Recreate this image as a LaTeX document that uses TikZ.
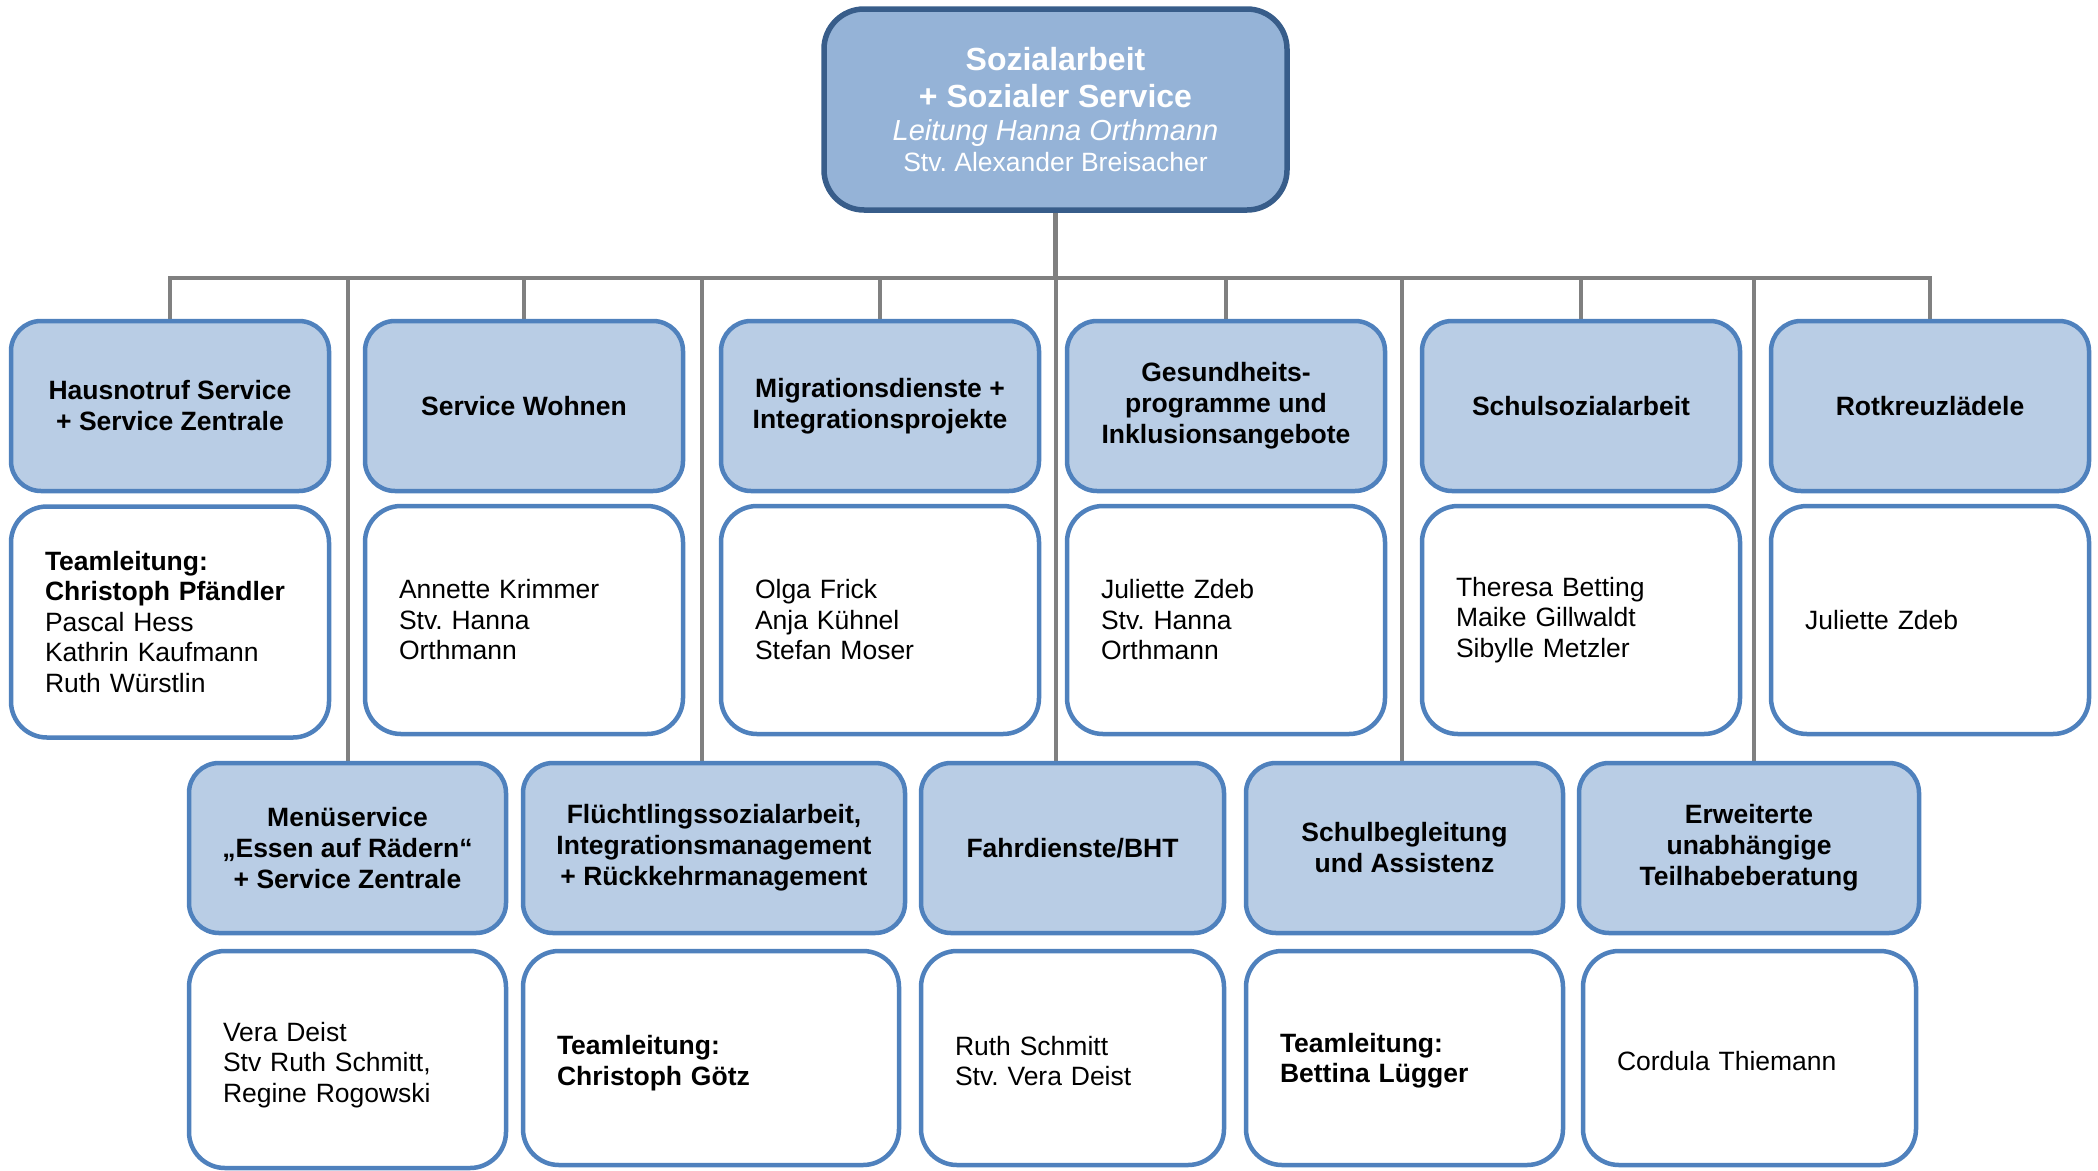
\documentclass[tikz,border=0pt]{standalone}
\usepackage{fontspec}
\setmainfont{Liberation Sans}
\usetikzlibrary{backgrounds}
\frenchspacing
\definecolor{topfill}{HTML}{95B3D7}
\definecolor{topline}{HTML}{385D8A}
\definecolor{hfill}{HTML}{B9CDE5}
\definecolor{hline}{HTML}{4F81BD}
\definecolor{conn}{HTML}{808080}
\newcommand{\lift}[1]{\rule{0pt}{#1}}
\begin{document}
\begin{tikzpicture}[x=1pt,y=-1pt,
  every node/.style={inner sep=0pt, outer sep=0pt},
  topbox/.style={draw=topline, fill=topfill, line width=5.5pt, rounded corners=40pt,
    minimum width=463pt, minimum height=201pt, align=center, text=white,
    font=\fontsize{29}{35}\selectfont\frenchspacing},
  headbox/.style={draw=hline, fill=hfill, line width=4.5pt, rounded corners=30pt,
    minimum height=170pt, align=center, font=\fontsize{26.5}{31}\selectfont\bfseries\frenchspacing},
  infobox/.style={draw=hline, fill=white, line width=4.5pt, rounded corners=36pt,
    inner xsep=34pt, align=left, font=\fontsize{26.5}{30.5}\selectfont\frenchspacing},
  link/.style={draw=conn, line width=4.5pt}
]
\useasboundingbox (0,0) rectangle (2098,1170);

% top
\node[topbox] (top) at (1055.5,109.5)
  {{\fontsize{32}{37}\selectfont\bfseries Sozialarbeit}\\[2pt]
   {\fontsize{32}{37}\selectfont\bfseries + Sozialer Service}\\[-1.5pt]
   {\itshape Leitung Hanna Orthmann}\\[-4.5pt]
   {\fontsize{26.5}{31}\selectfont Stv. Alexander Breisacher}};

% row 1 headers
\node[headbox, minimum width=318pt] (h1) at (170,406) {Hausnotruf Service\\+ Service Zentrale};
\node[headbox, minimum width=318pt] (h2) at (524,406) {Service Wohnen};
\node[headbox, minimum width=318pt] (h3) at (880,406) {Migrationsdienste +\\Integrationsprojekte};
\node[headbox, minimum width=318pt] (h4) at (1226,406) {Gesundheits-\\programme und\\Inklusionsangebote};
\node[headbox, minimum width=318pt] (h5) at (1581,406) {Schulsozialarbeit};
\node[headbox, minimum width=318pt] (h6) at (1930,406) {Rotkreuzlädele};

% row 1 info
\node[infobox, text width=250pt, minimum height=231pt] (c1) at (170,622)
  {\textbf{Teamleitung:}\\\textbf{Christoph Pfändler}\\Pascal Hess\\Kathrin Kaufmann\\Ruth Würstlin};
\node[infobox, text width=250pt, minimum height=228pt] (c2) at (524,620)
  {Annette Krimmer\\Stv. Hanna\\Orthmann};
\node[infobox, text width=250pt, minimum height=228pt] (c3) at (880,620)
  {Olga Frick\\Anja Kühnel\\Stefan Moser};
\node[infobox, text width=250pt, minimum height=228pt] (c4) at (1226,620)
  {Juliette Zdeb\\Stv. Hanna\\Orthmann};
\node[infobox, text width=250pt, minimum height=228pt] (c5) at (1581,620)
  {Theresa Betting\\Maike Gillwaldt\\Sibylle Metzler};
\node[infobox, text width=250pt, minimum height=228pt] (c6) at (1930,620)
  {Juliette Zdeb};

% row 2 headers
\node[headbox, minimum width=317pt] (m1) at (347.5,848) {Menüservice\\„Essen auf Rädern“\\+ Service Zentrale};
\node[headbox, minimum width=382pt] (m2) at (714,848) {Flüchtlingssozialarbeit,\\Integrationsmanagement\\+ Rückkehrmanagement};
\node[headbox, minimum width=303pt] (m3) at (1072.5,848) {Fahrdienste/BHT};
\node[headbox, minimum width=317pt] (m4) at (1404.5,848) {Schulbegleitung\\und Assistenz};
\node[headbox, minimum width=340pt] (m5) at (1749,848) {Erweiterte\\unabhängige\\Teilhabeberatung};

% row 2 info
\node[infobox, text width=249pt, minimum height=217pt] (n1) at (347.5,1059.5)
  {\lift{29.5pt}Vera Deist\\Stv Ruth Schmitt,\\Regine Rogowski};
\node[infobox, text width=308pt, minimum height=214pt] (n2) at (711,1058)
  {\lift{29.5pt}\textbf{Teamleitung:}\\\textbf{Christoph Götz}};
\node[infobox, text width=235pt, minimum height=214pt] (n3) at (1072.5,1058)
  {\lift{25pt}Ruth Schmitt\\Stv. Vera Deist};
\node[infobox, text width=249pt, minimum height=214pt] (n4) at (1404.5,1058)
  {\lift{25pt}\textbf{Teamleitung:}\\\textbf{Bettina Lügger}};
\node[infobox, text width=265pt, minimum height=214pt] (n5) at (1749.5,1058)
  {\lift{25pt}Cordula Thiemann};

% connectors
\begin{scope}[on background layer]
\coordinate (bus) at (1056,278);
\coordinate (d1) at (348,278);
\coordinate (d2) at (702,278);
\coordinate (d3) at (1056,278);
\coordinate (d4) at (1402,278);
\coordinate (d5) at (1754,278);
\draw[link] (top.south) -- (top.south |- bus);
\draw[link] (h1.north) -- (h1.north |- bus) -- (h6.north |- bus) -- (h6.north);
\foreach \n in {h2,h3,h4,h5} \draw[link] (\n.north) -- (\n.north |- bus);
\draw[link] (d1) -- (d1 |- m1.north);
\draw[link] (d2) -- (d2 |- m2.north);
\draw[link] (d3) -- (d3 |- m3.north);
\draw[link] (d4) -- (d4 |- m4.north);
\draw[link] (d5) -- (d5 |- m5.north);
\end{scope}
\end{tikzpicture}
\end{document}
